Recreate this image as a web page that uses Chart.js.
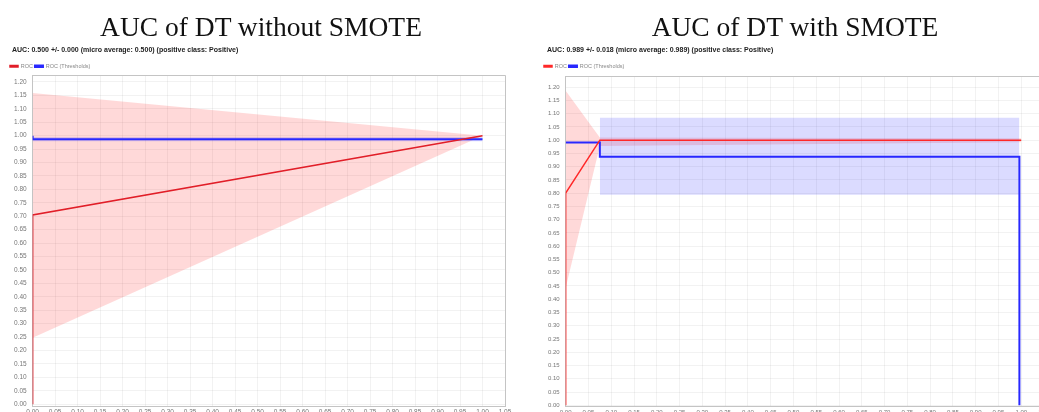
<!DOCTYPE html>
<html>
<head>
<meta charset="utf-8">
<script src="https://cdn.jsdelivr.net/npm/chart.js@4.4.1/dist/chart.umd.min.js"></script>
<style>
  html, body { margin: 0; padding: 0; background: #fff; width: 1039px; height: 412px; overflow: hidden; position: relative; }
  .panel { position: absolute; top: 0; }
  #left { left: 0; width: 520px; height: 420px; }
  #right { left: 530px; width: 530px; height: 420px; }
  .title { position: absolute; top: 12px; width: 500px; text-align: center; white-space: nowrap;
           font-family: 'Liberation Serif', serif; font-size: 27.5px; line-height: 30px; color: #111; }
  .sub { position: absolute; top: 46px; white-space: nowrap; font-family: 'Liberation Sans', sans-serif;
         font-weight: bold; font-size: 7px; line-height: 8px; color: #222; }
</style>
</head>
<body>
<div class="panel" id="left"><canvas id="noSmote"></canvas></div>
<div class="panel" id="right"><canvas id="withSmote"></canvas></div>
<div class="title" style="left:11px">AUC of DT without SMOTE</div>
<div class="title" style="left:545px">AUC of DT with SMOTE</div>
<div class="sub" style="left:12px">AUC: 0.500 +/- 0.000 (micro average: 0.500) (positive class: Positive)</div>
<div class="sub" style="left:547px">AUC: 0.989 +/- 0.018 (micro average: 0.989) (positive class: Positive)</div>
<script>
// Axis tick values (false positive rate / true positive rate)
const xTicks = [0, 0.05, 0.10, 0.15, 0.20, 0.25, 0.30, 0.35, 0.40, 0.45, 0.50,
                0.55, 0.60, 0.65, 0.70, 0.75, 0.80, 0.85, 0.90, 0.95, 1.00, 1.05];
const yTicks = [0, 0.05, 0.10, 0.15, 0.20, 0.25, 0.30, 0.35, 0.40, 0.45, 0.50, 0.55,
                0.60, 0.65, 0.70, 0.75, 0.80, 0.85, 0.90, 0.95, 1.00, 1.05, 1.10, 1.15, 1.20];

// Decision tree without SMOTE
const rocNoSmoteX = [0, 0, 1.0];
const rocNoSmoteY = [0, 0.705, 1.0];
const rocBandNoSmoteX = [0, 1.0];
const rocBandNoSmoteUpper = [1.159, 1.0];
const rocBandNoSmoteLower = [0.247, 1.0];
const thrNoSmoteX = [0, 0, 1.0];
const thrNoSmoteY = [1.0, 0.987, 0.987];
const thrBandNoSmoteX = [0, 1.0];
const thrBandNoSmoteUpper = [0.995, 0.995];
const thrBandNoSmoteLower = [0.979, 0.979];

// Decision tree with SMOTE
const rocSmoteX = [0, 0, 0.075, 1.0];
const rocSmoteY = [0, 0.80, 1.0, 1.0];
const rocBandSmoteX = [0, 0.075, 1.0];
const rocBandSmoteUpper = [1.186, 1.010, 1.007];
const rocBandSmoteLower = [0.442, 0.978, 0.992];
const thrSmoteX = [0, 0.075, 0.075, 0.996, 0.996];
const thrSmoteY = [0.991, 0.991, 0.937, 0.937, 0];
const thrBandSmoteX = [0.075, 0.996];
const thrBandSmoteUpper = [1.085, 1.085];
const thrBandSmoteLower = [0.794, 0.794];

const pts = (xs, ys) => xs.map((x, i) => ({ x: x, y: ys[i] }));

// Thin grey frame round the plot area (top and right edges)
const framePlugin = {
  id: 'frame',
  beforeDatasetsDraw(chart) {
    const a = chart.chartArea, ctx = chart.ctx;
    ctx.save();
    ctx.strokeStyle = '#c4c4c4';
    ctx.lineWidth = 1;
    ctx.beginPath();
    ctx.moveTo(a.left, a.top + 0.5);
    ctx.lineTo(a.right + 0.5, a.top + 0.5);
    ctx.lineTo(a.right + 0.5, a.bottom);
    ctx.stroke();
    ctx.restore();
  }
};

function makeChart(id, o) {
  const red = o.red, blue = 'rgb(40,40,255)';
  const datasets = [
    { label: 'ROC', data: pts(o.rocX, o.rocY), borderColor: red, backgroundColor: red,
      borderWidth: 1.5, pointRadius: 0, fill: false, order: 1 },
    { label: 'ROC (Thresholds)', data: pts(o.thrX, o.thrY), borderColor: blue, backgroundColor: blue,
      borderWidth: 2, pointRadius: 0, fill: false, order: 2 },
    { label: 'rocUpper', data: pts(o.rocBandX, o.rocBandUpper), borderWidth: 0, pointRadius: 0,
      backgroundColor: 'rgba(255,0,0,0.15)', fill: '+1', order: 5 },
    { label: 'rocLower', data: pts(o.rocBandX, o.rocBandLower), borderWidth: 0, pointRadius: 0,
      fill: false, order: 5 },
    { label: 'thrUpper', data: pts(o.thrBandX, o.thrBandUpper), borderWidth: 0, pointRadius: 0,
      backgroundColor: 'rgba(0,0,255,0.14)', fill: '+1', order: 4 },
    { label: 'thrLower', data: pts(o.thrBandX, o.thrBandLower), borderWidth: 0, pointRadius: 0,
      fill: false, order: 4 }
  ];
  const tickFont = { family: 'Liberation Sans', size: o.tickSize };
  return new Chart(document.getElementById(id), {
    type: 'line',
    data: { datasets: datasets },
    plugins: [framePlugin],
    options: {
      responsive: true,
      maintainAspectRatio: false,
      animation: false,
      layout: { padding: o.padding },
      plugins: {
        title: { display: false },
        legend: {
          display: true, align: 'start', maxHeight: o.legendHeight,
          labels: {
            filter: (item) => item.text === 'ROC' || item.text === 'ROC (Thresholds)',
            boxWidth: 8, boxHeight: 1.5, padding: 2,
            color: '#888', font: { family: 'Liberation Sans', size: 5.5 }
          }
        },
        tooltip: { enabled: false }
      },
      scales: {
        x: {
          type: 'linear', min: 0, max: 1.05,
          afterBuildTicks: (s) => { s.ticks = xTicks.map(v => ({ value: v })); },
          ticks: { callback: (v) => v.toFixed(2), color: '#777', font: tickFont, padding: 2,
                   maxRotation: 0, autoSkip: false },
          grid: { color: 'rgba(0,0,0,0.05)', drawTicks: false },
          border: { color: '#c4c4c4' }
        },
        y: {
          type: 'linear', min: o.yMin, max: o.yMax,
          afterBuildTicks: (s) => { s.ticks = yTicks.map(v => ({ value: v })); },
          ticks: { callback: (v) => v.toFixed(2), color: '#777', font: tickFont, padding: 6,
                   autoSkip: false },
          grid: { color: 'rgba(0,0,0,0.05)', drawTicks: false },
          border: { color: '#c4c4c4' }
        }
      }
    }
  });
}

makeChart('noSmote', {
  red: 'rgb(225,30,40)', tickSize: 6.5,
  padding: { left: 8, right: 15, top: 61.5, bottom: 2 },
  legendHeight: 13.5,
  yMin: -0.0075, yMax: 1.226,
  rocX: rocNoSmoteX, rocY: rocNoSmoteY,
  rocBandX: rocBandNoSmoteX, rocBandUpper: rocBandNoSmoteUpper, rocBandLower: rocBandNoSmoteLower,
  thrX: thrNoSmoteX, thrY: thrNoSmoteY,
  thrBandX: thrBandNoSmoteX, thrBandUpper: thrBandNoSmoteUpper, thrBandLower: thrBandNoSmoteLower
});

makeChart('withSmote', {
  red: 'rgb(255,40,40)', tickSize: 6,
  padding: { left: 12, right: 16, top: 61.5, bottom: 2 },
  legendHeight: 14.5,
  yMin: -0.0057, yMax: 1.242,
  rocX: rocSmoteX, rocY: rocSmoteY,
  rocBandX: rocBandSmoteX, rocBandUpper: rocBandSmoteUpper, rocBandLower: rocBandSmoteLower,
  thrX: thrSmoteX, thrY: thrSmoteY,
  thrBandX: thrBandSmoteX, thrBandUpper: thrBandSmoteUpper, thrBandLower: thrBandSmoteLower
});
</script>
</body>
</html>
